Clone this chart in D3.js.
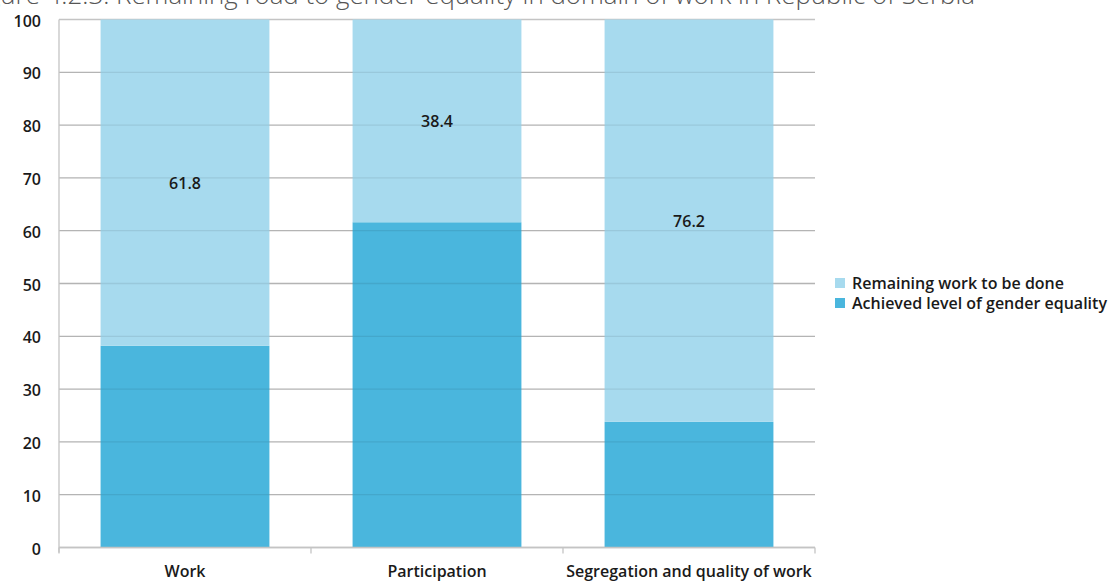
<!DOCTYPE html>
<html><head><meta charset="utf-8">
<script src="https://cdn.jsdelivr.net/npm/d3@7"></script>
<style>body{margin:0;background:#fff;overflow:hidden}svg{display:block}</style>
</head><body>
<svg id="c" width="1117" height="581"></svg>
<script>
const categories = ["Work", "Participation", "Segregation and quality of work"];
const achieved = [38.2, 61.6, 23.8];
const remaining = [61.8, 38.4, 76.2];
const yTicks = [0, 10, 20, 30, 40, 50, 60, 70, 80, 90, 100];
const seriesNames = ["Remaining work to be done", "Achieved level of gender equality"];
const titlePrefix = "Fig";
const titleRest = "ure 4.2.3: Remaining road to gender equality in domain of work in Republic of Serbia";

const colLight = "#a7daee", colDark = "#4ab6dd";
const svg = d3.select("#c");
const L = 59, R = 815, T = 19.5, B = 547.5;
const x = d3.scaleBand().domain(categories).range([L, R]).paddingInner(0.33).paddingOuter(0.165);
const xb = d3.scaleBand().domain(categories).range([L, R]);
const y = d3.scaleLinear().domain([0, 100]).range([B, T]);
const font = "'Open Sans', Lato, sans-serif";
const fs = 16, fw = 600, tc = "#1a1a1a";

// title: sized so visible part spans x=0..975
const tfam = "'Open Sans', sans-serif";
const probe = svg.append("text").attr("font-family", tfam).attr("font-weight", 300)
  .attr("font-size", 20).text(titleRest);
const w20 = probe.node().getComputedTextLength();
probe.remove();
const tfs = 20 * 975 / w20;
svg.append("text").attr("x", 975).attr("y", 3.5).attr("text-anchor", "end")
  .attr("font-family", tfam).attr("font-weight", 300)
  .attr("font-size", tfs).attr("fill", "#555").text(titlePrefix + titleRest);

// gridlines under
svg.append("g").selectAll("line").data(yTicks).join("line")
  .attr("x1", L).attr("x2", R).attr("y1", d => y(d)).attr("y2", d => y(d))
  .attr("stroke", "#c4c4c4").attr("stroke-width", 1.3);

// bars
const stack = categories.map((c, i) => ({c, a: achieved[i], r: remaining[i]}));
svg.append("g").selectAll("rect").data(stack).join("rect")
  .attr("x", d => x(d.c)).attr("width", x.bandwidth())
  .attr("y", d => y(d.a)).attr("height", d => y(0) - y(d.a)).attr("fill", colDark);
svg.append("g").selectAll("rect").data(stack).join("rect")
  .attr("x", d => x(d.c)).attr("width", x.bandwidth())
  .attr("y", d => y(d.a + d.r)).attr("height", d => y(d.a) - y(d.a + d.r)).attr("fill", colLight);

// faint gridlines over bars
svg.append("g").selectAll("line").data(yTicks.filter(d => d > 0 && d < 100)).join("line")
  .attr("x1", L).attr("x2", R).attr("y1", d => y(d)).attr("y2", d => y(d))
  .attr("stroke", "#000").attr("stroke-opacity", 0.08).attr("stroke-width", 1.3);

// data labels
svg.append("g").selectAll("text").data(stack).join("text")
  .attr("x", d => x(d.c) + x.bandwidth() / 2).attr("y", d => y(d.a + d.r / 2) + 6.5)
  .attr("text-anchor", "middle").attr("font-family", font).attr("font-size", fs)
  .attr("font-weight", fw).attr("fill", tc).text(d => d.r.toFixed(1));

// y axis
svg.append("line").attr("x1", L).attr("x2", L).attr("y1", T).attr("y2", B + 5)
  .attr("stroke", "#c4c4c4").attr("stroke-width", 1.3);
svg.append("g").selectAll("text").data(yTicks).join("text")
  .attr("x", 41).attr("y", d => y(d) + 7).attr("text-anchor", "end")
  .attr("font-family", font).attr("font-size", 16).attr("font-weight", fw).attr("fill", tc)
  .text(d => d);

// x axis
svg.append("line").attr("x1", L).attr("x2", R).attr("y1", B).attr("y2", B)
  .attr("stroke", "#c4c4c4").attr("stroke-width", 1.3);
svg.append("g").selectAll("line").data([...categories.map(c => xb(c)), R]).join("line")
  .attr("x1", d => d).attr("x2", d => d).attr("y1", B).attr("y2", B + 6)
  .attr("stroke", "#c4c4c4").attr("stroke-width", 1.3);
svg.append("g").selectAll("text").data(categories).join("text")
  .attr("x", d => xb(d) + xb.bandwidth() / 2).attr("y", 577).attr("text-anchor", "middle")
  .attr("font-family", font).attr("font-size", fs).attr("font-weight", fw).attr("fill", tc)
  .text(d => d);

// legend
const leg = svg.append("g").selectAll("g").data(seriesNames).join("g")
  .attr("transform", (d, i) => `translate(835,${278 + i * 20})`);
leg.append("rect").attr("width", 10).attr("height", 10).attr("fill", (d, i) => i === 0 ? colLight : colDark);
leg.append("text").attr("x", 17).attr("y", 10.5).attr("font-family", font).attr("font-size", fs)
  .attr("font-weight", fw).attr("fill", tc).text(d => d);
</script>
</body></html>
